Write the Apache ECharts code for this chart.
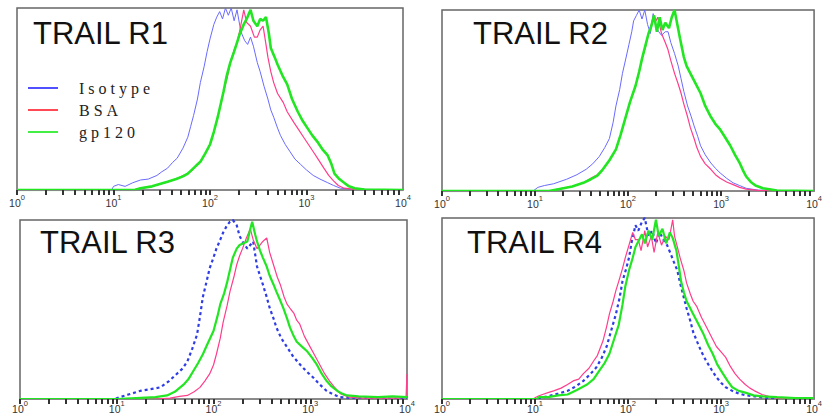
<!DOCTYPE html>
<html>
<head>
<meta charset="utf-8">
<script src="https://cdn.jsdelivr.net/npm/echarts@6/dist/echarts.min.js"></script>
<style>
    html, body { margin: 0; padding: 0; background: #fff; }
    #main { width: 825px; height: 418px; }
    /* legend words are letter-spaced in the original figure */
    #main text[style*="Liberation Serif"], #main text[font-family*="Liberation Serif"] { letter-spacing: 4px; }
</style>
</head>
<body>
<div id="main"></div>
<script>
// x = log10(fluorescence), y = % of max
const panelTitles = ['TRAIL R1', 'TRAIL R2', 'TRAIL R3', 'TRAIL R4']
const seriesNames = ['Isotype', 'BSA', 'gp120']
const decadeTicks = [0, 1, 2, 3, 4]

const r1Isotype = [[0,0],[0.98,0],[1.0,2],[1.05,3],[1.12,2],[1.2,4],[1.28,5.5],[1.36,6],[1.45,8],[1.5,10],[1.56,12],[1.61,15],[1.66,17.5],[1.72,23],[1.77,29],[1.8,35],[1.83,41],[1.87,50],[1.9,59],[1.94,68],[1.97,76],[2.0,83],[2.04,91],[2.07,95],[2.1,98],[2.13,94],[2.16,100],[2.19,96],[2.22,100],[2.25,93],[2.28,99],[2.32,87],[2.36,82],[2.39,80],[2.42,84],[2.45,79],[2.49,70],[2.52,65],[2.56,57],[2.6,50],[2.63,44],[2.66,40],[2.7,34],[2.73,30],[2.78,25],[2.83,21],[2.88,17],[2.94,14],[3.0,11],[3.07,8],[3.14,6],[3.22,4],[3.28,2.5],[3.35,1],[3.45,0.5],[4,0]]
const r1Bsa = [[0,0],[1.2,0],[1.28,1],[1.4,2],[1.56,4.5],[1.65,6],[1.72,8],[1.77,9],[1.82,11],[1.86,14],[1.9,15.5],[1.95,20],[2.0,25],[2.04,32],[2.08,40],[2.11,47],[2.14,54],[2.18,62],[2.21,70],[2.25,77],[2.28,81],[2.31,88],[2.35,99],[2.38,92],[2.42,90],[2.46,84],[2.49,84],[2.52,88],[2.55,90],[2.58,80],[2.6,73],[2.63,65],[2.66,59],[2.7,53],[2.76,48],[2.8,43],[2.87,37],[2.92,33],[2.97,29],[3.02,25],[3.07,21],[3.12,17],[3.18,12],[3.23,8],[3.28,5],[3.33,2.5],[3.39,1],[3.5,0.3],[4,0]]
const r1Gp120 = [[0,0],[1.22,0],[1.28,1],[1.4,2],[1.56,4.5],[1.65,6],[1.72,7.5],[1.77,9],[1.83,12],[1.9,15.5],[1.95,20],[2.0,25],[2.04,32],[2.08,40],[2.11,47],[2.14,54],[2.17,62],[2.21,70],[2.25,76],[2.28,81],[2.31,86],[2.35,91],[2.38,94],[2.42,99],[2.45,93],[2.49,90],[2.52,94],[2.55,93],[2.58,95],[2.61,86],[2.63,78],[2.67,73],[2.7,69],[2.75,63],[2.8,58],[2.85,50],[2.91,43],[2.96,38],[3.01,34],[3.06,30],[3.12,26],[3.17,22],[3.22,19],[3.26,14],[3.29,9],[3.34,6],[3.39,4],[3.44,2],[3.5,1],[3.6,0.3],[4,0]]

const r2Isotype = [[0,0],[0.98,0],[1.03,2],[1.1,3],[1.2,4],[1.34,6.5],[1.45,9],[1.55,12],[1.62,15],[1.69,19],[1.75,24],[1.8,29],[1.84,38],[1.87,47],[1.91,56],[1.94,65],[1.98,74],[2.01,81],[2.04,88],[2.06,94],[2.09,97],[2.12,100],[2.15,95],[2.18,100],[2.21,92],[2.24,87],[2.27,98],[2.3,91],[2.33,88],[2.36,86],[2.4,88],[2.43,88],[2.46,82],[2.5,76],[2.54,69],[2.57,62],[2.6,55],[2.64,47],[2.68,41],[2.71,36],[2.75,30],[2.78,25],[2.83,20],[2.89,15.5],[2.94,12.5],[2.99,10],[3.06,7],[3.13,4.5],[3.2,3],[3.27,1.5],[3.4,0.5],[4,0]]
const r2Bsa = [[0,0],[1.15,0],[1.25,1],[1.4,2.5],[1.52,4.5],[1.6,7],[1.67,9],[1.73,12],[1.8,17],[1.87,23],[1.92,31],[1.97,40],[2.02,49],[2.08,58],[2.12,66],[2.15,73],[2.19,80],[2.22,87],[2.25,92],[2.28,97],[2.3,94],[2.32,96],[2.36,87],[2.4,82],[2.43,78],[2.46,72],[2.5,65],[2.54,59],[2.57,54],[2.6,48],[2.64,41],[2.67,35],[2.71,29],[2.74,24],[2.78,19],[2.83,15],[2.89,12],[2.94,9],[2.99,7],[3.06,5],[3.13,3.5],[3.2,2],[3.27,1],[3.4,0.3],[4,0]]
const r2Gp120 = [[0,0],[1.15,0],[1.25,1],[1.4,2.5],[1.52,4.5],[1.6,6.5],[1.67,8.5],[1.73,12],[1.8,17],[1.87,23],[1.92,31],[1.97,40],[2.02,49],[2.08,58],[2.12,66],[2.15,73],[2.19,81],[2.22,87],[2.25,91],[2.28,97],[2.31,88],[2.34,96],[2.37,89],[2.4,93],[2.44,90],[2.47,96],[2.5,100],[2.53,92],[2.56,84],[2.6,74],[2.63,69],[2.67,65],[2.72,60],[2.78,54],[2.83,47],[2.89,41],[2.94,37],[2.99,34],[3.04,30],[3.1,25],[3.15,20],[3.2,15.5],[3.24,11],[3.27,8],[3.32,5],[3.37,3],[3.45,1.5],[3.52,1],[3.6,0.3],[4,0]]

const r3Isotype = [[0,0],[0.98,0],[1.03,1],[1.12,2.5],[1.24,4.5],[1.35,5.5],[1.45,6.5],[1.54,10],[1.62,14],[1.68,17],[1.73,21],[1.78,28],[1.83,36],[1.86,46],[1.89,57],[1.93,66],[1.96,73],[2.0,79],[2.03,84],[2.07,89],[2.1,93],[2.14,97],[2.17,99],[2.2,100],[2.24,97],[2.27,91],[2.31,87],[2.35,84],[2.38,86],[2.41,88],[2.45,74],[2.48,69],[2.51,64],[2.55,57],[2.58,51],[2.62,45],[2.65,40],[2.7,34],[2.76,29],[2.82,24],[2.89,19.5],[2.96,15.5],[3.03,12],[3.1,8],[3.17,4.5],[3.24,2.5],[3.31,1],[3.45,0.5],[4,0]]
const r3Bsa = [[0,0],[1.4,0],[1.55,0.5],[1.65,1.5],[1.73,2],[1.8,4],[1.86,6.5],[1.91,10],[1.96,14],[2.0,19],[2.03,25],[2.07,34],[2.1,43],[2.14,52],[2.17,60],[2.21,68],[2.24,75],[2.27,80],[2.3,84],[2.34,90],[2.38,95],[2.41,89],[2.45,84],[2.48,86],[2.51,88],[2.55,90],[2.58,82],[2.62,75],[2.66,68],[2.69,64],[2.73,57],[2.76,53],[2.8,50],[2.83,48],[2.86,44],[2.89,42],[2.94,35],[3.0,29],[3.05,24],[3.1,19],[3.15,14],[3.2,10],[3.26,6],[3.31,3],[3.4,1],[3.55,0.5],[3.9,0.5],[3.99,1],[4,14]]
const r3Gp120 = [[0,0],[1.0,0],[1.2,0.5],[1.4,1],[1.52,2],[1.6,4],[1.69,8],[1.74,11],[1.79,15.5],[1.84,20],[1.89,25],[1.94,31],[2.0,38],[2.04,46],[2.07,53],[2.11,59],[2.14,65],[2.17,72],[2.2,79],[2.24,84],[2.27,86],[2.31,87],[2.35,88],[2.38,95],[2.4,99],[2.43,92],[2.45,88],[2.48,83],[2.51,79],[2.55,74],[2.58,69],[2.62,64],[2.65,60],[2.69,55],[2.72,51],[2.76,45],[2.79,40],[2.83,35],[2.86,32],[2.92,29],[2.97,26.5],[3.02,23],[3.07,19],[3.12,14],[3.17,10],[3.22,7],[3.28,4.5],[3.33,3],[3.38,2],[3.5,1.5],[3.7,1],[3.85,1.5],[4,1]]

const r4Isotype = [[0,0],[1.0,0],[1.05,0.5],[1.14,1.5],[1.25,3],[1.35,4.5],[1.44,7],[1.52,10],[1.59,13.5],[1.66,17.5],[1.72,23],[1.77,29],[1.82,38],[1.87,47],[1.91,56],[1.94,65],[1.98,72],[2.01,78],[2.04,87],[2.08,96],[2.11,93],[2.15,98],[2.18,100],[2.22,90],[2.26,93],[2.3,86],[2.34,92],[2.38,88],[2.42,85],[2.46,80],[2.49,76],[2.53,71],[2.56,64],[2.6,56],[2.63,50],[2.67,43],[2.7,37],[2.74,32],[2.79,26],[2.84,21],[2.9,16],[2.95,12],[3.0,9],[3.05,6.5],[3.12,4.5],[3.19,3],[3.27,2],[3.36,1.5],[3.5,0.5],[4,0]]
const r4Bsa = [[0,0],[0.98,0],[1.01,1],[1.03,1.5],[1.08,2.5],[1.14,3.5],[1.2,4.5],[1.28,6],[1.35,8],[1.41,10],[1.47,11],[1.52,14],[1.58,17],[1.63,21],[1.67,24],[1.7,28],[1.73,32],[1.77,40],[1.8,47],[1.84,54],[1.87,60],[1.9,65],[1.94,72],[1.97,78],[2.01,85],[2.05,92],[2.08,88],[2.11,88],[2.14,82],[2.18,93],[2.21,84],[2.25,90],[2.28,81],[2.32,92],[2.36,85],[2.4,90],[2.44,88],[2.48,99],[2.5,90],[2.53,84],[2.56,78],[2.6,71],[2.63,64],[2.67,58],[2.7,54],[2.74,51],[2.79,45],[2.84,40],[2.9,34],[2.95,29],[3.0,26],[3.05,23],[3.1,18],[3.15,14],[3.2,11],[3.26,8],[3.31,6],[3.36,4.5],[3.44,2.5],[3.51,1.5],[3.6,0.5],[4,0]]
const r4Gp120 = [[0,0],[1.02,0],[1.04,1],[1.14,1],[1.25,2],[1.35,2.5],[1.45,5],[1.56,8],[1.63,11],[1.69,15.5],[1.75,20],[1.8,25],[1.85,33],[1.9,41],[1.94,52],[1.97,62],[2.01,71],[2.05,78],[2.08,84],[2.11,87],[2.15,91],[2.18,86],[2.22,93],[2.26,88],[2.3,99],[2.33,90],[2.37,94],[2.41,86],[2.45,92],[2.48,89],[2.52,82],[2.55,72],[2.57,65],[2.6,59],[2.63,54],[2.67,50],[2.7,47],[2.76,41],[2.81,36],[2.86,30],[2.91,25],[2.96,19],[3.02,14],[3.07,10],[3.12,6.5],[3.19,4.5],[3.26,3.5],[3.35,2],[3.44,1.5],[3.6,1],[3.8,0.5],[4,0.5]]

const panelData = [
    [r1Isotype, r1Bsa, r1Gp120],
    [r2Isotype, r2Bsa, r2Gp120],
    [r3Isotype, r3Bsa, r3Gp120],
    [r4Isotype, r4Bsa, r4Gp120]
]

// panel boxes in px
const boxes = [
    { left: 17, top: 8, width: 386, height: 182 },
    { left: 442, top: 10, width: 381, height: 181 },
    { left: 20, top: 220, width: 387, height: 180 },
    { left: 442, top: 218, width: 381, height: 181 }
]
const titlePos = [[33, 17], [473, 17], [40, 226], [467, 226]]

// minor ticks at 2..9 of every decade
let tickValues = []
for (let d = 0; d < 4; d++) {
    for (let k = 1; k < 10; k++) tickValues.push(d + Math.log10(k))
}

let myChart = echarts.init(document.getElementById('main'), null, { renderer: 'svg' })

let grids = [], xAxes = [], yAxes = [], titles = [], seriesData = []
for (let i = 0; i < 4; i++) {
    let bottomRow = i >= 2
    grids.push(Object.assign({ show: true, borderColor: '#666', borderWidth: 1.5 }, boxes[i]))
    xAxes.push({
        type: 'value', gridIndex: i, min: 0, max: 4, interval: 1, z: 5,
        splitLine: { show: false },
        axisLine: { show: true, lineStyle: { color: '#888', width: 1 } },
        axisTick: { show: true, customValues: tickValues, length: 5, lineStyle: { color: '#333', width: 2 } },
        axisLabel: {
            customValues: decadeTicks,
            margin: bottomRow ? 0 : 3,
            color: '#333', fontFamily: 'Liberation Sans', fontSize: 10.5, lineHeight: 19,
            formatter: function (v) { return '10{s|' + v + '}' },
            rich: { s: { fontFamily: 'Liberation Sans', fontSize: 7.5, lineHeight: 9, verticalAlign: 'top', color: '#333' } }
        }
    })
    yAxes.push({ type: 'value', gridIndex: i, min: 0, max: 100, show: false })
    titles.push({
        text: panelTitles[i], left: titlePos[i][0], top: titlePos[i][1], padding: 0,
        textStyle: { fontFamily: 'Liberation Sans', fontSize: 31, fontWeight: 'normal', color: '#111', lineHeight: 32 }
    })
    let styles = [
        bottomRow ? { color: '#2f3de6', width: 2.2, type: [3, 3] } : { color: '#6a6aff', width: 1 },
        { color: '#ff3d8b', width: 1.2 },
        { color: '#22e622', width: bottomRow ? 2.2 : 2.6 }
    ]
    for (let j = 0; j < 3; j++) {
        seriesData.push({
            name: seriesNames[j], type: 'line', xAxisIndex: i, yAxisIndex: i,
            symbol: 'none', data: panelData[i][j],
            lineStyle: styles[j], itemStyle: { color: styles[j].color }
        })
    }
}

let option = {
    backgroundColor: '#fff',
    animation: false,
    title: titles,
    legend: {
        orient: 'vertical', left: 28, top: 80, padding: 0, itemGap: 6,
        itemWidth: 30, itemHeight: 2, icon: 'rect',
        selectedMode: false,
        textStyle: { fontFamily: 'Liberation Serif', fontSize: 16, lineHeight: 16, color: '#222', padding: [0, 0, 0, 16] },
        data: [
            { name: 'Isotype', itemStyle: { color: '#5050ff' } },
            { name: 'BSA', itemStyle: { color: '#ff4a55' } },
            { name: 'gp120', itemStyle: { color: '#44ee44' } }
        ]
    },
    grid: grids,
    xAxis: xAxes,
    yAxis: yAxes,
    series: seriesData
}
myChart.setOption(option)
</script>
</body>
</html>
